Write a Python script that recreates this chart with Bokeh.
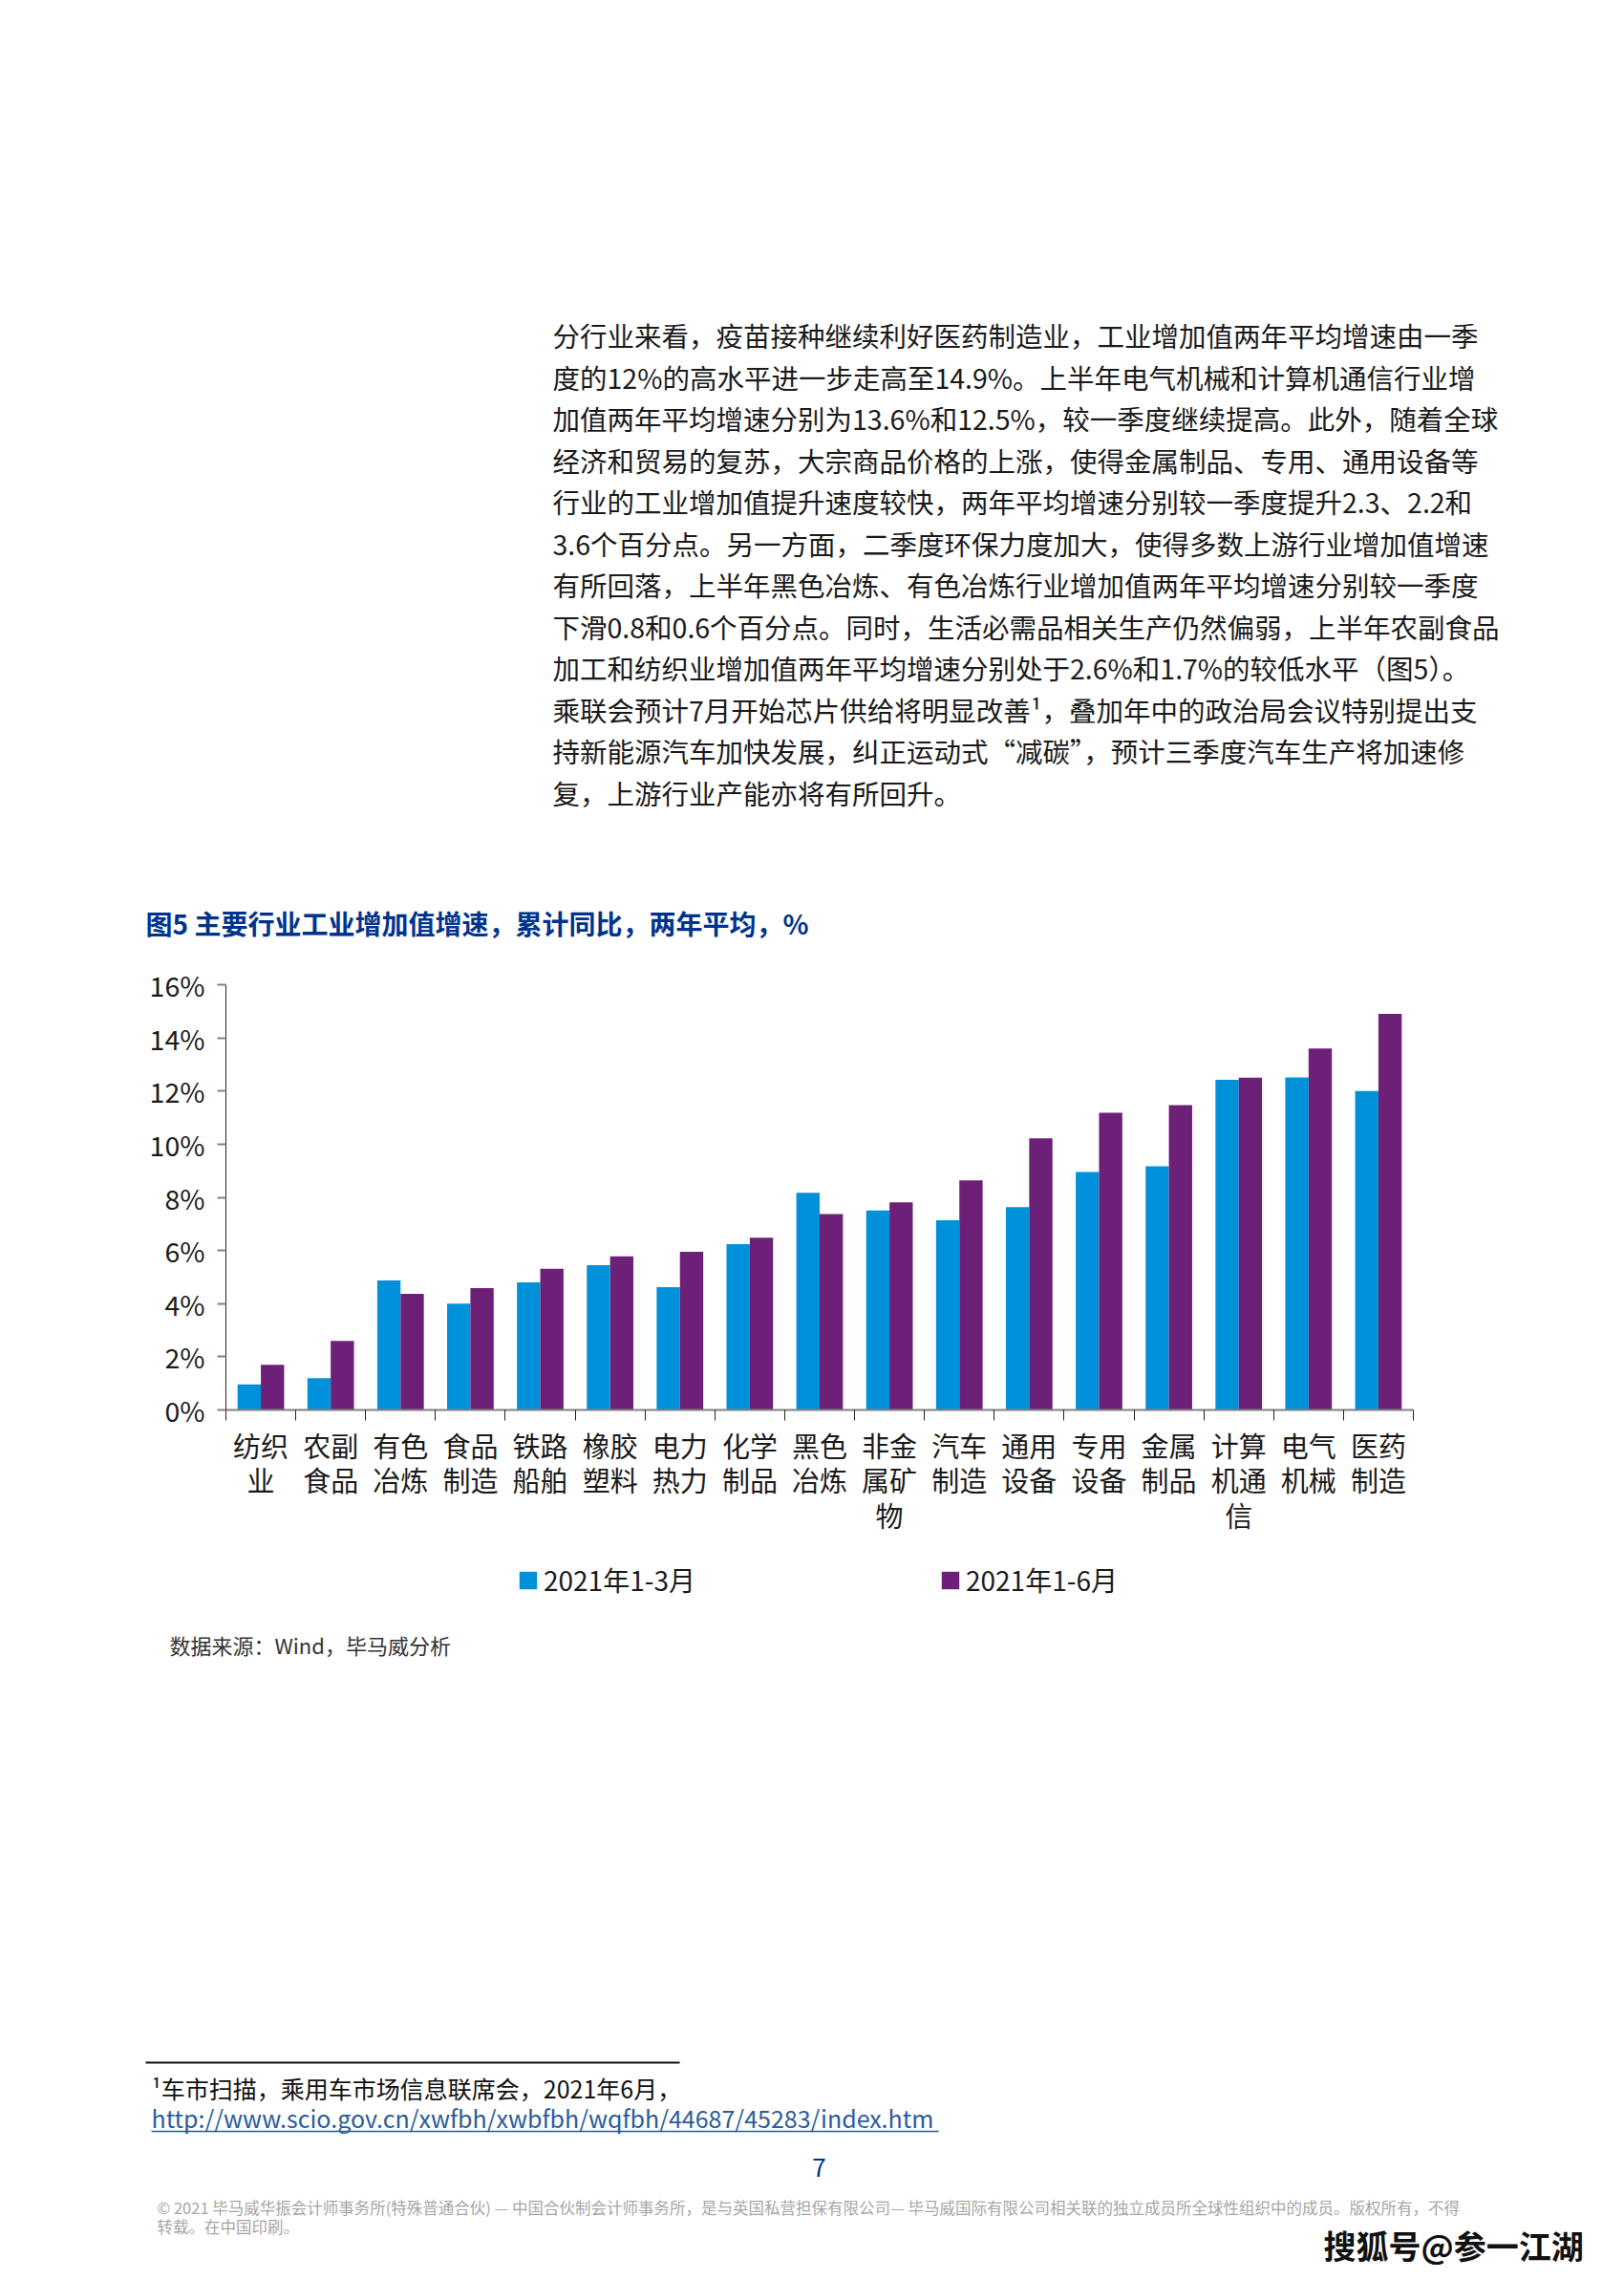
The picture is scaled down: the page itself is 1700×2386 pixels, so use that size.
from bokeh.plotting import figure
from bokeh.models import (Range1d, FixedTicker, PrintfTickFormatter, Legend, LegendItem, ColumnDataSource)
from bokeh.transform import dodge
from bokeh.embed import file_html
from bokeh.resources import INLINE
from bokeh.core.properties import value

# ---------------- data ----------------
categories = ["纺织\n业", "农副\n食品", "有色\n冶炼", "食品\n制造", "铁路\n船舶", "橡胶\n塑料",
              "电力\n热力", "化学\n制品", "黑色\n冶炼", "非金\n属矿\n物", "汽车\n制造", "通用\n设备",
              "专用\n设备", "金属\n制品", "计算\n机通\n信", "电气\n机械", "医药\n制造"]
q1_2021 = [0.96, 1.2, 4.87, 4.0, 4.8, 5.45, 4.62, 6.24, 8.17, 7.51, 7.14, 7.63, 8.95, 9.17, 12.42, 12.51, 12.0]
h1_2021 = [1.7, 2.6, 4.37, 4.58, 5.31, 5.78, 5.95, 6.48, 7.37, 7.81, 8.64, 10.22, 11.18, 11.47, 12.5, 13.6, 14.9]
series_names = ["2021年1-3月", "2021年1-6月"]
y_ticks = [0, 2, 4, 6, 8, 10, 12, 14, 16]

title = "图5  主要行业工业增加值增速，累计同比，两年平均，%"
paragraph = [
    "分行业来看，疫苗接种继续利好医药制造业，工业增加值两年平均增速由一季",
    "度的12%的高水平进一步走高至14.9%。上半年电气机械和计算机通信行业增",
    "加值两年平均增速分别为13.6%和12.5%，较一季度继续提高。此外，随着全球",
    "经济和贸易的复苏，大宗商品价格的上涨，使得金属制品、专用、通用设备等",
    "行业的工业增加值提升速度较快，两年平均增速分别较一季度提升2.3、2.2和",
    "3.6个百分点。另一方面，二季度环保力度加大，使得多数上游行业增加值增速",
    "有所回落，上半年黑色冶炼、有色冶炼行业增加值两年平均增速分别较一季度",
    "下滑0.8和0.6个百分点。同时，生活必需品相关生产仍然偏弱，上半年农副食品",
    "加工和纺织业增加值两年平均增速分别处于2.6%和1.7%的较低水平（图5）。",
    "乘联会预计7月开始芯片供给将明显改善¹，叠加年中的政治局会议特别提出支",
    "持新能源汽车加快发展，纠正运动式“减碳”，预计三季度汽车生产将加速修",
    "复，上游行业产能亦将有所回升。",
]
source_note = "数据来源：Wind，毕马威分析"
footnote = "¹车市扫描，乘用车市场信息联席会，2021年6月，"
footnote_link = "http://www.scio.gov.cn/xwfbh/xwbfbh/wqfbh/44687/45283/index.htm"
page_no = "7"
copyright_lines = [
    "© 2021 毕马威华振会计师事务所(特殊普通合伙) — 中国合伙制会计师事务所，是与英国私营担保有限公司— 毕马威国际有限公司相关联的独立成员所全球性组织中的成员。版权所有，不得",
    "转载。在中国印刷。",
]
watermark = "搜狐号@参一江湖"

FONT = "Noto Sans CJK SC"
BLUE = "#0091DA"
PURPLE = "#6D2077"
NAVY = "#00338D"
PAGE_W = 1700

# vertical bands of the page (page pixels)
TOP_END, CHART_END, PAGE_END = 1000, 1625, 2386
FL, FR, FT, FB = 236, 1479, 1030, 1475   # plot frame edges on the page


def sheet(y0, y1):
    f = figure(width=PAGE_W, height=y1 - y0, x_range=Range1d(0, PAGE_W), y_range=Range1d(y1, y0),
               output_backend="svg", toolbar_location=None, min_border=0,
               x_axis_type=None, y_axis_type=None)
    f.grid.visible = False
    f.outline_line_color = None
    return f


def put(f, x, y, text, size, color="#1a1a1a", style="normal", align="left"):
    f.text(x=x if isinstance(x, list) else [x], y=y if isinstance(y, list) else [y],
           text=text if isinstance(text, list) else [text],
           text_font=value(FONT), text_font_size=value(size), text_font_style=style,
           text_color=color, text_baseline="middle", text_align=align)


# ---------------- top sheet: paragraph + chart title ----------------
top = sheet(0, TOP_END)
put(top, [578] * len(paragraph), [350 + 43.5 * i for i in range(len(paragraph))], paragraph, "28.5px")
put(top, 152, 965, title, "28px", color=NAVY, style="bold")

# ---------------- chart ----------------
p = figure(width=PAGE_W, height=CHART_END - TOP_END, x_range=Range1d(0, len(categories)),
           y_range=Range1d(0, 16), output_backend="svg", toolbar_location=None,
           min_border_left=FL, min_border_right=PAGE_W - FR,
           min_border_top=FT - TOP_END, min_border_bottom=CHART_END - FB)
p.grid.visible = False
p.outline_line_color = None

centers = [i + 0.5 for i in range(len(categories))]
src = ColumnDataSource(dict(x=centers, q1=q1_2021, h1=h1_2021))
r1 = p.vbar(x=dodge("x", -1 / 6, range=p.x_range), top="q1", width=1 / 3, source=src,
            fill_color=BLUE, line_color=None)
r2 = p.vbar(x=dodge("x", 1 / 6, range=p.x_range), top="h1", width=1 / 3, source=src,
            fill_color=PURPLE, line_color=None)

xa = p.xaxis[0]
xa.ticker = FixedTicker(ticks=centers, minor_ticks=list(range(len(categories) + 1)))
xa.major_label_overrides = {c: lab for c, lab in zip(centers, categories)}
xa.major_tick_out = 0
xa.major_tick_in = 0
xa.minor_tick_out = 11
xa.minor_tick_in = 0
xa.minor_tick_line_color = "#222222"
xa.axis_line_color = "#808080"
xa.axis_line_width = 2
xa.major_label_standoff = 4
xa.major_label_text_font = FONT
xa.major_label_text_font_size = "29px"
xa.major_label_text_color = "#1a1a1a"
xa.major_label_text_line_height = 0.87

ya = p.yaxis[0]
ya.ticker = FixedTicker(ticks=y_ticks)
ya.formatter = PrintfTickFormatter(format="%d%%")
ya.major_tick_out = 9
ya.major_tick_in = 0
ya.minor_tick_out = 0
ya.minor_tick_in = 0
ya.major_tick_line_color = "#808080"
ya.major_tick_line_width = 2
ya.axis_line_color = "#222222"
ya.axis_line_width = 1
ya.major_label_standoff = 13
ya.major_label_text_font = FONT
ya.major_label_text_font_size = "28.5px"
ya.major_label_text_color = "#1a1a1a"

# ---------------- bottom sheet: legend, source, footnote, footer ----------------
bot = sheet(CHART_END, PAGE_END)
# legend swatches: one NaN row each, so nothing is drawn on the sheet itself
k1 = bot.vbar(x=[float("nan")], top=[float("nan")], width=1, fill_color=BLUE, line_color=None)
k2 = bot.vbar(x=[float("nan")], top=[float("nan")], width=1, fill_color=PURPLE, line_color=None)
LEG_LEFT, LEG_TOP = 541, 1633
legend = Legend(items=[LegendItem(label=series_names[0], renderers=[k1], index=0),
                       LegendItem(label=series_names[1], renderers=[k2], index=0)],
                orientation="horizontal", location=(LEG_LEFT, PAGE_END - LEG_TOP - 40),
                glyph_width=23, glyph_height=23, label_standoff=5, spacing=255,
                label_text_font=FONT, label_text_font_size="28px", label_text_color="#1a1a1a",
                border_line_color=None, background_fill_alpha=0, padding=0, margin=0)
bot.add_layout(legend, "center")

put(bot, 177, 1720, source_note, "22px", color="#333333")
bot.segment(x0=[152], y0=[2158], x1=[711], y1=[2158], line_color="#111111", line_width=2)
put(bot, 158, 2184, footnote, "25px", color="#111111")
put(bot, 158, 2215, footnote_link, "25px", color="#2B5C9A")
bot.segment(x0=[158], y0=[2230], x1=[982], y1=[2230], line_color="#2B5C9A", line_width=1.5)
put(bot, 857, 2268, page_no, "26px", color=NAVY, align="center")
put(bot, [164, 164], [2309, 2329], copyright_lines, "16.5px", color="#A6A6A6")
put(bot, 1385, 2349, watermark, "34px", color="#111111", style="bold")

open("out.html", "w").write(file_html([top, p, bot], INLINE))
